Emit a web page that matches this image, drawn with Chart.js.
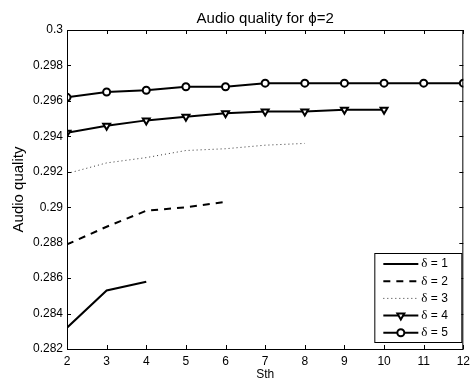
<!DOCTYPE html>
<html>
<head>
<meta charset="utf-8">
<script src="https://cdn.jsdelivr.net/npm/chart.js@4"></script>
<style>
  html, body { margin: 0; padding: 0; background: #fff; }
  #wrap { width: 475px; height: 387px; }
</style>
</head>
<body>
<div id="wrap"><canvas id="myChart" width="475" height="387"></canvas></div>
<script>
  const sth = [2, 3, 4, 5, 6, 7, 8, 9, 10, 11, 12];
  const delta1 = [0.2832, 0.2853, 0.2858];
  const delta2 = [0.2879, 0.2889, 0.2898, 0.2900, 0.2903];
  const delta3 = [0.2919, 0.2925, 0.2928, 0.2932, 0.2933, 0.2935, 0.2936];
  const delta4 = [0.2942, 0.2946, 0.2949, 0.2951, 0.2953, 0.2954, 0.2954, 0.2955, 0.2955];
  const delta5 = [0.2962, 0.2965, 0.2966, 0.2968, 0.2968, 0.2970, 0.2970, 0.2970, 0.2970, 0.2970, 0.2970];
  const seriesLabels = ['1', '2', '3', '4', '5'];

  const font = 'Liberation Sans, Arial, sans-serif';

  function pts(vals) {
    return vals.map((v, i) => ({ x: sth[i], y: v }));
  }

  const base = {
    borderColor: '#000',
    backgroundColor: '#fff',
    borderWidth: 2,
    pointRadius: 0,
    tension: 0,
    clip: 0
  };

  const data = {
    datasets: [
      Object.assign({}, base, { label: seriesLabels[0], data: pts(delta1) }),
      Object.assign({}, base, { label: seriesLabels[1], data: pts(delta2), borderDash: [7, 6] }),
      Object.assign({}, base, { label: seriesLabels[2], data: pts(delta3), borderWidth: 1, borderColor: '#333', borderDash: [1, 3] }),
      Object.assign({}, base, { label: seriesLabels[3], data: pts(delta4), pointRadius: 4, pointStyle: 'triangle', pointRotation: 180, pointBorderWidth: 2 }),
      Object.assign({}, base, { label: seriesLabels[4], data: pts(delta5), pointRadius: 3.5, pointStyle: 'circle', pointBorderWidth: 2 })
    ]
  };

  // box round the plot, inward ticks, legend inside plot
  const matlabLook = {
    id: 'matlabLook',
    afterDraw(chart) {
      const ctx = chart.ctx;
      const a = chart.chartArea;
      const xs = chart.scales.x, ys = chart.scales.y;
      ctx.save();
      ctx.strokeStyle = '#000';
      ctx.lineWidth = 1;
      ctx.strokeRect(a.left + 0.5, a.top + 0.5, a.right - a.left - 1, a.bottom - a.top);
      ctx.beginPath();
      xs.ticks.forEach((t, i) => {
        const px = Math.round(xs.getPixelForTick(i)) + 0.5;
        ctx.moveTo(px, a.bottom); ctx.lineTo(px, a.bottom - 4);
        ctx.moveTo(px, a.top); ctx.lineTo(px, a.top + 4);
      });
      ys.ticks.forEach((t, i) => {
        const py = Math.round(ys.getPixelForTick(i)) + 0.5;
        ctx.moveTo(a.left, py); ctx.lineTo(a.left + 4, py);
        ctx.moveTo(a.right, py); ctx.lineTo(a.right - 4, py);
      });
      ctx.stroke();

      // legend
      const w = 87, h = 89;
      const bx = a.right - 2 - w, by = a.bottom - 7 - h;
      ctx.fillStyle = '#fff';
      ctx.fillRect(bx, by, w, h);
      ctx.strokeRect(bx + 0.5, by + 0.5, w, h);
      chart.data.datasets.forEach((ds, i) => {
        const y = by + 11 + i * 17.2;
        const x0 = bx + 9, x1 = bx + 44;
        ctx.save();
        ctx.strokeStyle = ds.borderColor;
        ctx.lineWidth = ds.borderWidth;
        ctx.setLineDash(ds.borderDash || []);
        ctx.beginPath();
        ctx.moveTo(x0, y); ctx.lineTo(x1, y);
        ctx.stroke();
        ctx.restore();
        if (ds.pointRadius) {
          ctx.save();
          ctx.lineWidth = ds.pointBorderWidth;
          ctx.strokeStyle = '#000';
          ctx.fillStyle = '#fff';
          Chart.helpers.drawPoint(ctx, {
            pointStyle: ds.pointStyle, rotation: ds.pointRotation || 0,
            radius: ds.pointRadius, borderWidth: ds.pointBorderWidth
          }, (x0 + x1) / 2, y);
          ctx.restore();
        }
        ctx.fillStyle = '#000';
        ctx.textBaseline = 'middle';
        ctx.font = '13px "Liberation Serif", serif';
        ctx.fillText('\u03b4', x1 + 3, y);
        const dw = ctx.measureText('\u03b4').width;
        ctx.font = '12px ' + font;
        ctx.fillText(' = ' + ds.label, x1 + 3 + dw, y);
      });
      ctx.restore();
    }
  };

  const config = {
    type: 'line',
    data: data,
    options: {
      responsive: false,
      animation: false,
      layout: { padding: { left: 0, right: 3, top: 0, bottom: 0 } },
      plugins: {
        legend: { display: false },
        tooltip: { enabled: false },
        title: {
          display: true,
          fullSize: false,
          text: 'Audio quality for \u03d5=2',
          color: '#000',
          font: { family: font, size: 15, weight: 'normal' },
          padding: { top: 10, bottom: 2 }
        }
      },
      scales: {
        x: {
          type: 'linear',
          min: 2, max: 12,
          grid: { display: false, drawTicks: false },
          border: { display: false },
          ticks: { stepSize: 1, color: '#000', padding: 5, maxRotation: 0, font: { family: font, size: 12 } },
          title: { display: true, text: 'Sth', color: '#000', font: { family: font, size: 12 }, padding: { top: 0, bottom: 5 } },
          afterFit(s) { s.height = 38; }
        },
        y: {
          min: 0.282, max: 0.3,
          grid: { display: false, drawTicks: false },
          border: { display: false },
          ticks: {
            stepSize: 0.002, color: '#000', padding: 4,
            font: { family: font, size: 12 },
            callback: v => String(parseFloat(v.toFixed(3)))
          },
          title: { display: true, text: 'Audio quality', color: '#000', font: { family: font, size: 15 }, padding: { top: 10, bottom: 0 } },
          afterFit(s) { s.width = 67; }
        }
      }
    },
    plugins: [matlabLook]
  };

  const myChart = new Chart(document.getElementById('myChart'), config);
</script>
</body>
</html>
